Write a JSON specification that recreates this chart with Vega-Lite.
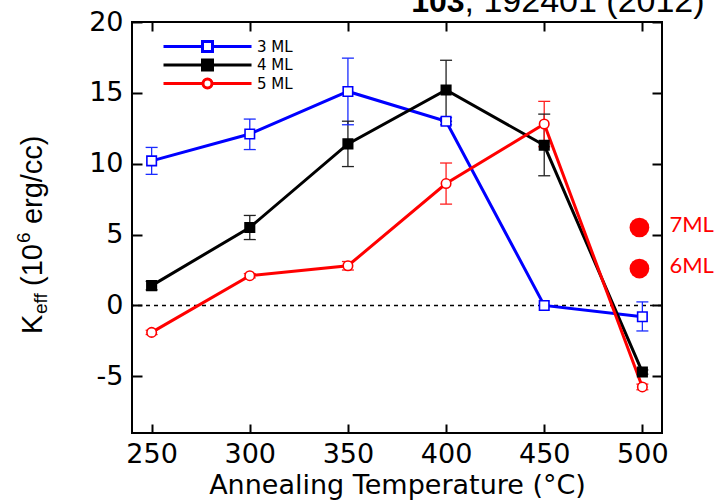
{
  "$schema": "https://vega.github.io/schema/vega-lite/v6.json",
  "width": 530,
  "height": 411,
  "autosize": {"type": "none"},
  "padding": {"left": 132, "top": 22, "right": 58, "bottom": 71},
  "background": "white",
  "config": {
    "view": {"stroke": "black", "strokeWidth": 2},
    "font": "DejaVu Sans",
    "axis": {
      "domain": false,
      "grid": false,
      "labelColor": "black",
      "labelFont": "DejaVu Sans",
      "labelFontSize": 27,
      "titleFont": "DejaVu Sans",
      "titleFontSize": 27,
      "titleFontWeight": "normal",
      "titleColor": "black"
    },
    "legend": {
      "labelFontSize": 15,
      "labelFont": "DejaVu Sans",
      "labelColor": "black",
      "padding": 0,
      "rowPadding": 1.5,
      "clipHeight": 17,
      "symbolStrokeWidth": 3,
      "symbolSize": 144,
      "labelOffset": 80
    }
  },
  "datasets": {
    "series": [
      {"series": "3 ML", "T": 250, "K": 10.2, "lo": 9.25, "hi": 11.15},
      {"series": "3 ML", "T": 300, "K": 12.1, "lo": 11.0, "hi": 13.15},
      {"series": "3 ML", "T": 350, "K": 15.1, "lo": 12.75, "hi": 17.45},
      {"series": "3 ML", "T": 400, "K": 13.0, "lo": 12.75, "hi": 13.25},
      {"series": "3 ML", "T": 450, "K": 0.0, "lo": null, "hi": null},
      {"series": "3 ML", "T": 500, "K": -0.8, "lo": -1.8, "hi": 0.25},
      {"series": "4 ML", "T": 250, "K": 1.4, "lo": 1.1, "hi": 1.7},
      {"series": "4 ML", "T": 300, "K": 5.5, "lo": 4.65, "hi": 6.35},
      {"series": "4 ML", "T": 350, "K": 11.4, "lo": 9.8, "hi": 13.0},
      {"series": "4 ML", "T": 400, "K": 15.2, "lo": 13.0, "hi": 17.3},
      {"series": "4 ML", "T": 450, "K": 11.3, "lo": 9.15, "hi": 13.5},
      {"series": "4 ML", "T": 500, "K": -4.7, "lo": -4.85, "hi": -4.55},
      {"series": "5 ML", "T": 250, "K": -1.9, "lo": -2.05, "hi": -1.75},
      {"series": "5 ML", "T": 300, "K": 2.1, "lo": 1.95, "hi": 2.25},
      {"series": "5 ML", "T": 350, "K": 2.8, "lo": 2.5, "hi": 3.1},
      {"series": "5 ML", "T": 400, "K": 8.6, "lo": 7.15, "hi": 10.05},
      {"series": "5 ML", "T": 450, "K": 12.8, "lo": 11.2, "hi": 14.4},
      {"series": "5 ML", "T": 500, "K": -5.75, "lo": -5.95, "hi": -5.55}
    ],
    "dots": [
      {"label": "7ML", "T": 498.5, "K": 5.5},
      {"label": "6ML", "T": 498.5, "K": 2.6}
    ],
    "one": [{}]
  },
  "layer": [
    {
      "data": {"name": "one"},
      "mark": {"type": "rule", "strokeDash": [4, 4], "strokeWidth": 1.5, "color": "black"},
      "encoding": {
        "y": {"datum": 0, "type": "quantitative", "scale": {"domain": [-9, 20], "nice": false, "zero": false}, "axis": null}
      }
    },
    {
      "data": {"name": "series"},
      "mark": {"type": "rule", "strokeWidth": 1.3},
      "encoding": {
        "x": {"field": "T", "type": "quantitative", "scale": {"domain": [240, 510], "nice": false, "zero": false}, "axis": null},
        "y": {"field": "lo", "type": "quantitative", "axis": null},
        "y2": {"field": "hi"},
        "stroke": {"field": "series", "type": "nominal", "scale": {"domain": ["3 ML", "4 ML", "5 ML"], "range": ["#1a2cff", "#222222", "#ff2020"]}, "legend": null}
      }
    },
    {
      "data": {"name": "series"},
      "mark": {"type": "tick", "orient": "horizontal", "size": 12, "thickness": 1.3, "opacity": 1},
      "encoding": {
        "x": {"field": "T", "type": "quantitative", "axis": null},
        "y": {"field": "lo", "type": "quantitative", "axis": null},
        "color": {"field": "series", "type": "nominal", "scale": {"domain": ["3 ML", "4 ML", "5 ML"], "range": ["#1a2cff", "#222222", "#ff2020"]}, "legend": null}
      }
    },
    {
      "data": {"name": "series"},
      "mark": {"type": "tick", "orient": "horizontal", "size": 12, "thickness": 1.3, "opacity": 1},
      "encoding": {
        "x": {"field": "T", "type": "quantitative", "axis": null},
        "y": {"field": "hi", "type": "quantitative", "axis": null},
        "color": {"field": "series", "type": "nominal", "scale": {"domain": ["3 ML", "4 ML", "5 ML"], "range": ["#1a2cff", "#222222", "#ff2020"]}, "legend": null}
      }
    },
    {
      "data": {"name": "series"},
      "mark": {"type": "line", "strokeWidth": 3},
      "encoding": {
        "x": {"field": "T", "type": "quantitative", "axis": {"orient": "bottom", "values": [250, 300, 350, 400, 450, 500], "offset": -9, "zindex": 1, "ticks": true, "tickColor": "#000000", "tickWidth": 2, "tickSize": 9, "labelPadding": 8, "title": "Annealing Temperature (°C)", "titlePadding": 5}},
        "y": {"field": "K", "type": "quantitative", "axis": {"orient": "left", "values": [-5, 0, 5, 10, 15, 20], "offset": -10, "zindex": 1, "ticks": true, "tickColor": "#000000", "tickWidth": 2, "tickSize": 10, "labelPadding": 9, "title": null, "labelExpr": "'' + datum.value"}},
        "stroke": {"field": "series", "type": "nominal", "scale": {"domain": ["3 ML", "4 ML", "5 ML"], "range": ["#0000ff", "#000000", "#ff0000"]}, "legend": null}
      }
    },
    {
      "data": {"name": "series"},
      "mark": {"type": "point", "filled": true, "size": 90, "strokeWidth": 1.6, "opacity": 1},
      "encoding": {
        "x": {"field": "T", "type": "quantitative", "axis": {"orient": "top", "values": [250, 300, 350, 400, 450, 500], "offset": -9, "zindex": 1, "ticks": true, "tickColor": "#000000", "tickWidth": 2, "tickSize": 9, "labels": false, "title": null}},
        "y": {"field": "K", "type": "quantitative", "axis": {"orient": "right", "values": [-5, 0, 5, 10, 15, 20], "offset": -10, "zindex": 1, "ticks": true, "tickColor": "#000000", "tickWidth": 2, "tickSize": 10, "labels": false, "title": null}},
        "stroke": {"field": "series", "type": "nominal", "scale": {"domain": ["3 ML", "4 ML", "5 ML"], "range": ["#0000ff", "#000000", "#ff0000"]}, "legend": null},
        "fill": {"field": "series", "type": "nominal", "scale": {"domain": ["3 ML", "4 ML", "5 ML"], "range": ["#ffffff", "#000000", "#ffffff"]}, "legend": null},
        "shape": {"field": "series", "type": "nominal", "scale": {"domain": ["3 ML", "4 ML", "5 ML"], "range": ["square", "square", "circle"]}, "legend": null}
      }
    },
    {
      "data": {"name": "series"},
      "transform": [{"filter": "false"}],
      "mark": {"type": "point", "filled": true, "size": 144, "strokeWidth": 3, "opacity": 1},
      "encoding": {
        "x": {"field": "T", "type": "quantitative", "axis": null},
        "y": {"field": "K", "type": "quantitative", "axis": null},
        "stroke": {"field": "series", "type": "nominal", "scale": {"domain": ["3 ML", "4 ML", "5 ML"], "range": ["#0000ff", "#000000", "#ff0000"]},
          "legend": {"orient": "none", "legendX": 30, "legendY": 16, "title": null}},
        "fill": {"field": "series", "type": "nominal", "scale": {"domain": ["3 ML", "4 ML", "5 ML"], "range": ["#ffffff", "#000000", "#ffffff"]},
          "legend": {"orient": "none", "legendX": 30, "legendY": 16, "title": null}},
        "shape": {"field": "series", "type": "nominal", "scale": {"domain": ["3 ML", "4 ML", "5 ML"], "range": [
            "M-1,0H5.5M7.17,0H13.67M5.5,-0.83H7.17V0.83H5.5Z",
            "M-1,0H5.5M7.17,0H13.67M5.5,-0.83H7.17V0.83H5.5Z",
            "M-1,0H5.58M7.08,0H13.67M5.58,0A0.75,0.75,0,1,0,7.08,0A0.75,0.75,0,1,0,5.58,0Z"]},
          "legend": {"orient": "none", "legendX": 30, "legendY": 16, "title": null}}
      }
    },
    {
      "data": {"name": "dots"},
      "mark": {"type": "point", "filled": true, "size": 390, "color": "#ff0000", "opacity": 1},
      "encoding": {
        "x": {"field": "T", "type": "quantitative", "axis": null},
        "y": {"field": "K", "type": "quantitative", "axis": null}
      }
    },
    {
      "data": {"name": "dots"},
      "mark": {"type": "text", "align": "left", "baseline": "middle", "dx": 30, "dy": -3, "fontSize": 22, "font": "Lato", "color": "#ff0000"},
      "encoding": {
        "x": {"field": "T", "type": "quantitative", "axis": null},
        "y": {"field": "K", "type": "quantitative", "axis": null},
        "text": {"field": "label"}
      }
    },
    {
      "data": {"name": "one"},
      "mark": {"type": "text", "text": "K", "angle": 270, "align": "left", "baseline": "alphabetic", "fontSize": 29, "font": "Liberation Sans", "color": "black"},
      "encoding": {"x": {"datum": 193.96, "type": "quantitative", "axis": null}, "y": {"datum": -2.02, "type": "quantitative", "axis": null}}
    },
    {
      "data": {"name": "one"},
      "mark": {"type": "text", "text": "eff", "angle": 270, "align": "left", "baseline": "alphabetic", "fontSize": 19, "font": "Liberation Sans", "color": "black"},
      "encoding": {"x": {"datum": 196.5, "type": "quantitative", "axis": null}, "y": {"datum": -0.61, "type": "quantitative", "axis": null}}
    },
    {
      "data": {"name": "one"},
      "mark": {"type": "text", "text": "(10", "angle": 270, "align": "left", "baseline": "alphabetic", "fontSize": 29, "font": "Liberation Sans", "color": "black"},
      "encoding": {"x": {"datum": 193.96, "type": "quantitative", "axis": null}, "y": {"datum": 1.37, "type": "quantitative", "axis": null}}
    },
    {
      "data": {"name": "one"},
      "mark": {"type": "text", "text": "6", "angle": 270, "align": "left", "baseline": "alphabetic", "fontSize": 19, "font": "Liberation Sans", "color": "black"},
      "encoding": {"x": {"datum": 187.85, "type": "quantitative", "axis": null}, "y": {"datum": 4.4, "type": "quantitative", "axis": null}}
    },
    {
      "data": {"name": "one"},
      "mark": {"type": "text", "text": "erg/cc)", "angle": 270, "align": "left", "baseline": "alphabetic", "fontSize": 29, "font": "Liberation Sans", "color": "black"},
      "encoding": {"x": {"datum": 193.96, "type": "quantitative", "axis": null}, "y": {"datum": 5.74, "type": "quantitative", "axis": null}}
    },
    {
      "data": {"name": "one"},
      "mark": {"type": "text", "text": "103", "align": "right", "baseline": "alphabetic", "fontSize": 32, "fontWeight": "bold", "font": "Liberation Sans", "color": "black"},
      "encoding": {"x": {"datum": 409.4, "type": "quantitative", "axis": null}, "y": {"datum": 20.71, "type": "quantitative", "axis": null}}
    },
    {
      "data": {"name": "one"},
      "mark": {"type": "text", "text": ", 192401 (2012)", "align": "left", "baseline": "alphabetic", "fontSize": 34, "font": "Liberation Sans", "color": "black"},
      "encoding": {"x": {"datum": 409.4, "type": "quantitative", "axis": null}, "y": {"datum": 20.71, "type": "quantitative", "axis": null}}
    }
  ],
  "resolve": {"scale": {"stroke": "independent", "fill": "independent", "shape": "independent", "color": "independent"}}
}
